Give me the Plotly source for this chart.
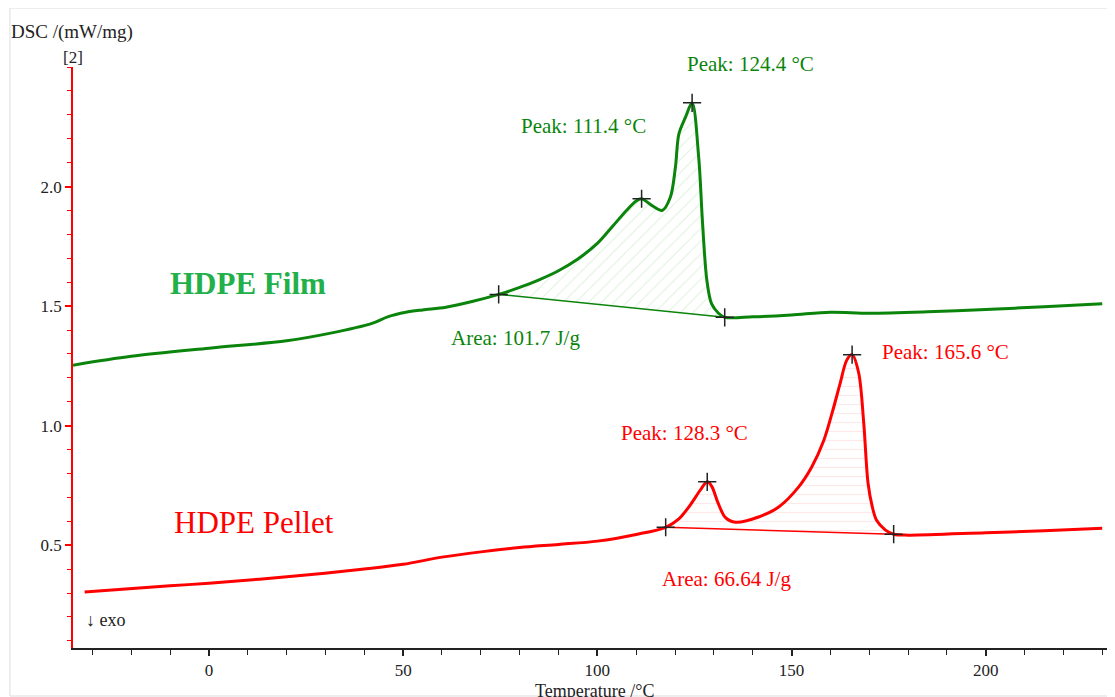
import plotly.graph_objects as go

# ---- data ----
film_T = [-35, -20, 0, 20, 31, 42, 46, 50.7, 55, 61, 68, 74.6, 80, 85, 90, 95, 100, 104, 107.5,
          110, 111.4, 114.1, 116.7, 118.8, 120.1, 121, 122.7, 124.4, 126.1, 127.1, 128.2,
          129.4, 131.2, 132.8, 140, 150, 160, 170, 185, 200, 215, 230]
film_y = [1.253, 1.29, 1.324, 1.355, 1.386, 1.428, 1.455, 1.474, 1.484, 1.495, 1.52, 1.549, 1.578,
          1.61, 1.648, 1.697, 1.762, 1.835, 1.90, 1.94, 1.949, 1.92, 1.90, 1.955, 2.08, 2.22, 2.29,
          2.35, 2.122, 1.845, 1.608, 1.51, 1.47, 1.453, 1.455, 1.463, 1.474,
          1.47, 1.476, 1.486, 1.497, 1.51]

pellet_T = [-32, -10, 0, 25, 40, 50, 60, 70, 80, 90, 100, 110, 117.6, 121, 124, 126.5, 128.3, 129.5,
            131, 133, 135.6, 141.5, 146.7, 151.8, 155.2, 158.3, 160.4, 162.5, 164.2, 165.6, 167.3,
            168.6, 169.7, 170.8, 171.9, 174.2, 176.3, 180, 200, 215, 230]
pellet_y = [0.304, 0.33, 0.341, 0.375, 0.40, 0.42, 0.45, 0.472, 0.49, 0.503, 0.517, 0.545, 0.575,
            0.61, 0.67, 0.73, 0.765, 0.745, 0.68, 0.615, 0.596, 0.618, 0.66, 0.743, 0.827, 0.938,
            1.05, 1.176, 1.273, 1.297, 1.22, 1.01, 0.76, 0.66, 0.604, 0.563, 0.546, 0.542, 0.552,
            0.56, 0.571]

film_base_T = [74.6, 132.8]
film_base_y = [1.549, 1.453]
pellet_base_T = [117.6, 176.3]
pellet_base_y = [0.575, 0.546]

film_marks_T = [74.6, 111.4, 124.4, 132.8]
film_marks_y = [1.549, 1.949, 2.35, 1.453]
pellet_marks_T = [117.6, 128.3, 165.6, 176.3]
pellet_marks_y = [0.575, 0.765, 1.297, 0.546]

x_ticks = [0, 50, 100, 150, 200]
y_ticks = [0.5, 1.0, 1.5, 2.0]

GREEN = "#0b840b"
RED = "#ff0000"
FONT = "Liberation Serif"
SMOOTH = 0.9


def segment(T, y, t0, t1):
    xs, ys = [], []
    for a, b in zip(T, y):
        if t0 <= a <= t1:
            xs.append(a)
            ys.append(b)
    return xs, ys


fig = go.Figure()

# hatched areas
fx, fy = segment(film_T, film_y, film_base_T[0], film_base_T[1])
fig.add_trace(go.Scatter(x=film_base_T[::-1], y=film_base_y[::-1], mode="lines",
                         line=dict(color=GREEN, width=1.5), showlegend=False, hoverinfo="skip"))
fig.add_trace(go.Scatter(x=fx, y=fy, mode="lines", line=dict(width=0, shape="spline", smoothing=SMOOTH),
                         fill="tonexty", fillcolor="rgba(0,0,0,0)",
                         fillpattern=dict(shape="/", fgcolor="rgba(0,150,0,0.25)", bgcolor="rgba(255,255,255,0)",
                                          size=9, solidity=0.12),
                         showlegend=False, hoverinfo="skip"))

px_, py_ = segment(pellet_T, pellet_y, pellet_base_T[0], pellet_base_T[1])
fig.add_trace(go.Scatter(x=pellet_base_T[::-1], y=pellet_base_y[::-1], mode="lines",
                         line=dict(color=RED, width=1.5), showlegend=False, hoverinfo="skip"))
fig.add_trace(go.Scatter(x=px_, y=py_, mode="lines", line=dict(width=0, shape="spline", smoothing=SMOOTH),
                         fill="tonexty", fillcolor="rgba(0,0,0,0)",
                         fillpattern=dict(shape="-", fgcolor="rgba(255,0,0,0.18)", bgcolor="rgba(255,255,255,0)",
                                          size=9, solidity=0.12),
                         showlegend=False, hoverinfo="skip"))

# main curves
fig.add_trace(go.Scatter(x=film_T, y=film_y, mode="lines",
                         line=dict(color=GREEN, width=3, shape="spline", smoothing=SMOOTH), showlegend=False))
fig.add_trace(go.Scatter(x=pellet_T, y=pellet_y, mode="lines",
                         line=dict(color=RED, width=3, shape="spline", smoothing=SMOOTH), showlegend=False))

# marks
for T, y in ((film_marks_T, film_marks_y), (pellet_marks_T, pellet_marks_y)):
    fig.add_trace(go.Scatter(x=T, y=y, mode="markers",
                             marker=dict(symbol="cross-thin", size=13, line=dict(color="#222222", width=1.5)),
                             showlegend=False))

ann = [
    dict(text="Peak: 124.4 °C", x=124.4, y=2.45, color=GREEN, xshift=58, yshift=15),
    dict(text="Peak: 111.4 °C", x=111.4, y=2.255, color=GREEN, xshift=-58, yshift=0),
    dict(text="Area: 101.7 J/g", x=79, y=1.365, color=GREEN, xshift=0, yshift=0),
    dict(text="Peak: 165.6 °C", x=165.6, y=1.31, color=RED, xshift=93, yshift=0),
    dict(text="Peak: 128.3 °C", x=128.3, y=0.97, color=RED, xshift=-23, yshift=0),
    dict(text="Area: 66.64 J/g", x=133.3, y=0.36, color=RED, xshift=0, yshift=0),
]
for a in ann:
    fig.add_annotation(x=a["x"], y=a["y"], text=a["text"], showarrow=False,
                       xshift=a["xshift"], yshift=a["yshift"],
                       font=dict(family=FONT, size=21, color=a["color"]))

fig.add_annotation(x=10, y=1.593, text="<b>HDPE Film</b>", showarrow=False,
                   font=dict(family=FONT, size=31, color="#22b04a"))
fig.add_annotation(x=11.5, y=0.595, text="HDPE Pellet", showarrow=False,
                   font=dict(family=FONT, size=31, color=RED))
fig.add_annotation(x=0.011, y=0.187, xref="paper", yref="y", xanchor="left", text="↓ exo", showarrow=False,
                   font=dict(family=FONT, size=18, color="#222222"))

fig.add_annotation(x=-0.0615, y=1.06, xref="paper", yref="paper", xanchor="left", yanchor="middle",
                   text="DSC /(mW/mg)", showarrow=False, font=dict(family=FONT, size=19, color="#222222"))
fig.add_annotation(x=0, y=1.016, xref="paper", yref="paper", xanchor="center", yanchor="middle",
                   text="[2]", showarrow=False, font=dict(family=FONT, size=17, color="#222222"))
fig.add_annotation(x=0.503, y=-0.053, xref="paper", yref="paper", xanchor="center", yanchor="top",
                   text="Temperature /°C", showarrow=False, font=dict(family=FONT, size=18, color="#222222"))

# light frame
fig.add_shape(type="rect", xref="paper", yref="paper", x0=-0.0608, y0=-0.0826, x1=1.0039, y1=1.1015,
              line=dict(color="#dddddd", width=1))

fig.update_layout(
    width=1107, height=689,
    margin=dict(l=65, r=5, t=59, b=49),
    paper_bgcolor="white", plot_bgcolor="white",
    font=dict(family=FONT, size=17, color="#222222"),
    showlegend=False,
)
fig.update_xaxes(range=[-35, 232], tickvals=x_ticks, showgrid=False, zeroline=False,
                 showline=True, linecolor="#222222", linewidth=1.5,
                 ticks="outside", ticklen=6, tickcolor="#222222", tickwidth=1.5,
                 minor=dict(dtick=10, tick0=0, ticks="outside", ticklen=5, tickcolor="#222222", tickwidth=1.3),
                 tickfont=dict(family=FONT, size=17, color="#222222"))
fig.update_yaxes(range=[0.07, 2.5], tickvals=y_ticks, tickformat=".1f", showgrid=False, zeroline=False,
                 showline=True, linecolor=RED, linewidth=1.5,
                 ticks="outside", ticklen=6, tickcolor=RED, tickwidth=1.5,
                 minor=dict(dtick=0.1, tick0=0, ticks="outside", ticklen=4, tickcolor=RED, tickwidth=1.3),
                 tickfont=dict(family=FONT, size=17, color="#222222"))

fig.write_html("out.html")
